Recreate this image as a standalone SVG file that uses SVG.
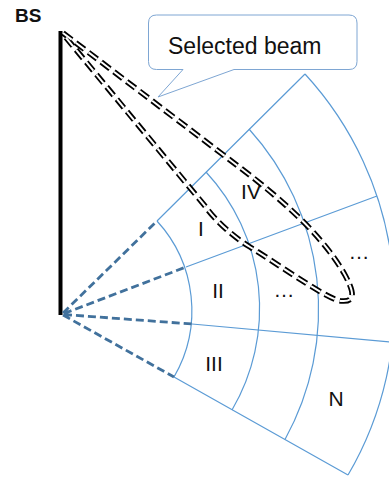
<svg xmlns="http://www.w3.org/2000/svg" width="389" height="477" viewBox="0 0 389 477">
<style>
.lbl{font-family:"Liberation Sans",Arial,sans-serif;font-size:21px;fill:#111;text-anchor:middle}
.cell{fill:none;stroke:#5b9bd5;stroke-width:1.2}
.dash{fill:none;stroke:#41719c;stroke-width:2.8;stroke-dasharray:8 4}
.beamO{fill:none;stroke:#000;stroke-width:5.6;stroke-dasharray:11 5;stroke-linejoin:round}
.beamI{fill:none;stroke:#fff;stroke-width:2;stroke-dasharray:11 5;stroke-linejoin:round}
</style>
<rect width="389" height="477" fill="#fff"/>
<g id="bs">
<line x1="60.5" y1="31" x2="60.5" y2="315" stroke="#000" stroke-width="4"/>
<text x="15" y="22" font-family="Liberation Sans,Arial,sans-serif" font-size="19" font-weight="bold" fill="#111">BS</text>
</g>
<g id="sector">
<path class="cell" d="M157,221 L305,74 M186,267 L377,196 M192,324 L401,343 M174,377 L348,475"/>
<path class="cell" d="M157,221 A132.5,132.5 0 0 1 174,377"/>
<path class="cell" d="M206,172 A200.5,200.5 0 0 1 232,410"/>
<path class="cell" d="M249,129 A268.8,268.8 0 0 1 285,439.5"/>
<path class="cell" d="M305,74 A339.2,339.2 0 0 1 348,475"/>
</g>
<g id="connectors">
<path class="dash" d="M63,313 L157,221 M64,313.5 L186,267 M64,314.5 L192,324 M63,315 L174,377"/>
</g>
<g id="labels">
<text class="lbl" x="251" y="199">IV</text>
<text class="lbl" x="201" y="236">I</text>
<text class="lbl" x="218" y="298">II</text>
<text class="lbl" x="284" y="297">…</text>
<text class="lbl" x="359" y="259">…</text>
<text class="lbl" x="214" y="371">III</text>
<text class="lbl" x="336" y="406">N</text>
</g>
<g id="beam">
<path class="beamO" d="M63,33 L230,160 C270,190 320,230 345,275 C353,290 357,302 342,301 C330,301 290,272 250,247 C232,236 214,219 205,206 L63,34"/>
<path class="beamI" d="M63,33 L230,160 C270,190 320,230 345,275 C353,290 357,302 342,301 C330,301 290,272 250,247 C232,236 214,219 205,206 L63,34"/>
</g>
<g id="callout">
<path d="M156.5,15 H349 Q357,15 357,23 V61.5 Q357,69.5 349,69.5 H234 L158,97 L183,69.5 H156.5 Q148.5,69.5 148.5,61.5 V23 Q148.5,15 156.5,15 Z" fill="#fff" stroke="#7ea6d3" stroke-width="1"/>
<text x="168" y="54" font-family="Liberation Sans,Arial,sans-serif" font-size="23" fill="#111">Selected beam</text>
</g>
</svg>
